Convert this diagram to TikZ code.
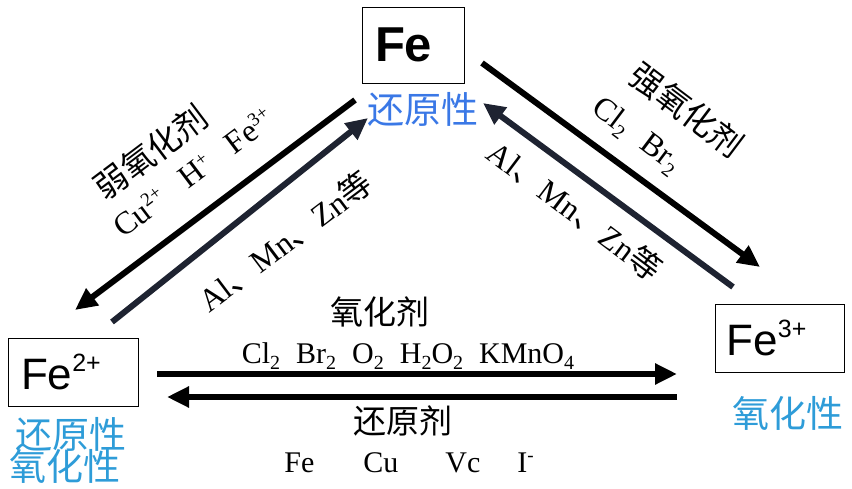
\documentclass[tikz,border=0pt]{standalone}
\usepackage{fontspec}
\setmainfont{Liberation Serif}
\newfontfamily\cjk{Noto Sans CJK SC}
\newfontfamily\ionfont{Liberation Sans}
\usepackage{tikz}
\usetikzlibrary{arrows.meta,positioning}
\definecolor{Ink}{HTML}{000000}
\definecolor{Slate}{HTML}{1E2331}
\definecolor{TopBlue}{HTML}{3A78E6}
\definecolor{SkyBlue}{HTML}{2E9CD8}
\newcommand{\zh}[1]{{\cjk #1}}
\newcommand{\ionup}[1]{\raisebox{18pt}{\fontsize{25}{25}\selectfont #1}}
\newcommand{\chup}[1]{\raisebox{11pt}{\fontsize{19}{19}\selectfont #1}}
\newcommand{\chdn}[1]{\raisebox{-6pt}{\fontsize{20}{20}\selectfont #1}}
\tikzset{
  ionbox/.style={draw=Ink, line width=0.8pt, inner ysep=0pt, align=left,
                 font=\ionfont\fontsize{44}{48}\selectfont},
  cnlabel/.style={font=\cjk\fontsize{33}{36}\selectfont, inner sep=0pt},
  chemlabel/.style={font=\fontsize{30}{33}\selectfont, inner sep=0pt},
  slantchem/.style={font=\fontsize{32}{35}\selectfont, inner sep=0pt},
  prop/.style={font=\cjk\fontsize{37}{40}\selectfont, text=SkyBlue, inner sep=0pt},
  fat/.style={-{Triangle[length=22pt,width=20pt]}, line width=6pt, draw=Ink},
  fatslate/.style={fat, draw=Slate},
}
\begin{document}
\begin{tikzpicture}[x=1pt,y=-1pt]
  \useasboundingbox (0,0) rectangle (852,489);
  % ions
  \node[ionbox, minimum width=102pt, minimum height=76pt, inner xsep=13pt,
        text width=76pt, font=\ionfont\bfseries\fontsize{49}{52}\selectfont] (fe) at (413,45) {Fe};
  \node[ionbox, minimum width=130pt, minimum height=68pt, inner xsep=13pt,
        text width=104pt] (fetwo) at (73,372) {Fe\ionup{2+}};
  \node[ionbox, minimum width=129pt, minimum height=68pt, inner xsep=11pt,
        text width=107pt] (fethree) at (780,338) {Fe\ionup{3+}};
  \node[prop, text=TopBlue] (feprop) at (423,109) {还原性};
  \node[prop] (fetwored) at (71,434) {还原性};
  \node[prop] (fetwoox) at (65,466) {氧化性};
  \node[prop] (fethreeox) at (788,413) {氧化性};
  % arrow ends
  \coordinate (lo1) at (355,100);  \coordinate (lo2) at (75,310);
  \coordinate (li1) at (112,322);  \coordinate (li2) at (368,118);
  \coordinate (ro1) at (482,63);   \coordinate (ro2) at (760,267);
  \coordinate (ri1) at (733,287);  \coordinate (ri2) at (483,103);
  \coordinate (ht1) at (157,374);  \coordinate (ht2) at (677,374);
  \coordinate (hb1) at (677,397);  \coordinate (hb2) at (167,397);
  \draw[fat] (lo1) -- (lo2);
  \draw[fatslate] (li1) -- (li2);
  \draw[fat] (ro1) -- (ro2);
  \draw[fatslate] (ri1) -- (ri2);
  \draw[fat] (ht1) -- (ht2);
  \draw[fat] (hb1) -- (hb2);
  % labels
  \node[cnlabel, rotate=37] (weak) at (151,152) {弱氧化剂};
  \node[slantchem, rotate=37] (weaklist) at (193,172) {Cu\chup{2+}\hspace{24pt}H\chup{+}\hspace{24pt}Fe\chup{3+}};
  \node[slantchem, rotate=37] (metalleft) at (285,241) {Al\zh{、}Mn\zh{、}Zn\zh{等}};
  \node[cnlabel, rotate=-37] (strong) at (687,110) {强氧化剂};
  \node[slantchem, rotate=-37] (stronglist) at (636,136) {Cl\chdn{2}\hspace{20pt}Br\chdn{2}};
  \node[slantchem, rotate=-37] (metalright) at (575,210) {Al\zh{、}Mn\zh{、}Zn\zh{等}};
  \node[cnlabel] (oxid) at (380,312) {氧化剂};
  \node[chemlabel] (oxlist) at (408,356) {Cl\chdn{2}\hspace{16pt}Br\chdn{2}\hspace{16pt}O\chdn{2}\hspace{16pt}H\chdn{2}O\chdn{2}\hspace{16pt}KMnO\chdn{4}};
  \node[cnlabel] (redu) at (403,421) {还原剂};
  \node[chemlabel] (redlist) at (409,463) {Fe\hspace{49pt}Cu\hspace{47pt}Vc\hspace{37pt}I\chup{-}};
\end{tikzpicture}
\end{document}
